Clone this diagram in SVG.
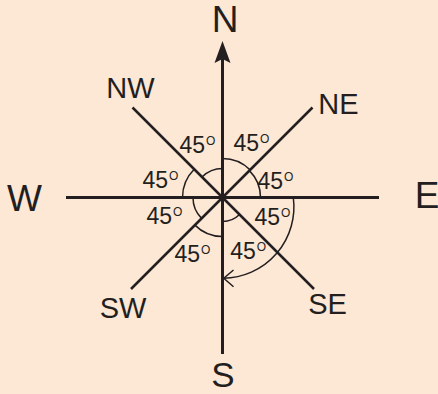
<svg xmlns="http://www.w3.org/2000/svg" width="438" height="394" viewBox="0 0 438 394">
<style>
.bg{fill:#FDE7D5}
.ax{stroke:#231F20;stroke-width:3;fill:none}
.dg{stroke:#231F20;stroke-width:2.5;fill:none}
.arc{stroke:#231F20;stroke-width:1.5;fill:none}
.big{font-family:"Liberation Sans",Arial,sans-serif;font-size:37px;fill:#231F20;text-anchor:middle}
.mid{font-family:"Liberation Sans",Arial,sans-serif;font-size:29px;fill:#231F20;text-anchor:middle}
.deg{font-family:"Liberation Sans",Arial,sans-serif;font-size:23px;fill:#231F20}
.sup{font-size:12px}
</style>
<rect class="bg" x="0" y="0" width="438" height="394"/>
<g id="connectors">
<line class="ax" x1="222.5" y1="58" x2="222.5" y2="354"/>
<path d="M222.5,41 L230.5,63 L222.5,59 L214.5,63 Z" fill="#231F20"/>
<line class="ax" x1="66" y1="197.5" x2="379" y2="197.5"/>
<line class="dg" x1="132.5" y1="107.5" x2="314" y2="289"/>
<line class="dg" x1="312.5" y1="107.5" x2="131" y2="289"/>
<path class="arc" d="M182.5,197.5 A40,40 0 0 1 194.2,169.2"/>
<path class="arc" d="M202,177 A29,29 0 0 1 222.5,168.5"/>
<path class="arc" d="M222.5,158.5 A39,39 0 0 1 250.1,169.9"/>
<path class="arc" d="M249.4,170.6 A38,38 0 0 1 260.5,197.5"/>
<path class="arc" d="M193,197.5 A29.5,29.5 0 0 0 201.6,218.4"/>
<path class="arc" d="M194.9,225.1 A39,39 0 0 0 222.5,236.5"/>
<path class="arc" d="M222.5,221.5 A24,24 0 0 0 239.5,214.5"/>
<path class="arc" d="M293.3,197.5 A71.5,71.5 0 0 1 223.5,278.3"/>
<path class="arc" d="M233.5,270 L223.8,278.3 L233.5,286.7"/>
</g>
<g id="N"><text class="big" x="225" y="32">N</text></g>
<g id="S"><text class="big" x="223" y="386.5" style="font-size:35px">S</text></g>
<g id="W"><text class="big" x="24.5" y="211">W</text></g>
<g id="E"><text class="big" x="427" y="208">E</text></g>
<g id="NW"><text class="mid" x="130.4" y="98">NW</text></g>
<g id="NE"><text class="mid" x="338.5" y="114">NE</text></g>
<g id="SW"><text class="mid" x="123" y="318">SW</text></g>
<g id="SE"><text class="mid" x="327.5" y="313.5">SE</text></g>
<g id="angles">
<text class="deg" x="179.5" y="152.7">45<tspan class="sup" dx="1" dy="-8">O</tspan></text>
<text class="deg" x="233.5" y="150.7">45<tspan class="sup" dx="1" dy="-8">O</tspan></text>
<text class="deg" x="142.5" y="188">45<tspan class="sup" dx="1" dy="-8">O</tspan></text>
<text class="deg" x="257.5" y="189">45<tspan class="sup" dx="1" dy="-8">O</tspan></text>
<text class="deg" x="146.5" y="224">45<tspan class="sup" dx="1" dy="-8">O</tspan></text>
<text class="deg" x="254.5" y="225">45<tspan class="sup" dx="1" dy="-8">O</tspan></text>
<text class="deg" x="174.5" y="261.7">45<tspan class="sup" dx="1" dy="-8">O</tspan></text>
<text class="deg" x="230.2" y="259.3">45<tspan class="sup" dx="1" dy="-8">O</tspan></text>
</g>
</svg>
